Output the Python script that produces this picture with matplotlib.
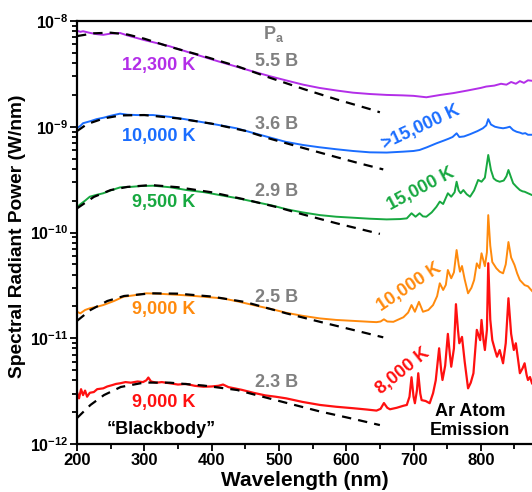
import matplotlib
matplotlib.use("Agg")
import matplotlib.pyplot as plt
from matplotlib.ticker import FixedLocator, LogLocator, NullFormatter, FixedFormatter

plt.rcParams['font.family'] = ['Liberation Sans', 'DejaVu Sans']
plt.rcParams['font.weight'] = 'bold'
plt.rcParams['mathtext.fontset'] = 'custom'
plt.rcParams['mathtext.rm'] = 'Liberation Sans:bold'
plt.rcParams['mathtext.bf'] = 'Liberation Sans:bold'
plt.rcParams['mathtext.it'] = 'Liberation Sans:bold'

# ---------------- measured spectra (W/nm) ----------------
# 5.5 bar
wl_purple = [200, 205, 209, 220, 230, 239, 250, 264, 275, 289, 300, 320, 338, 360, 387, 410,
             437, 460, 487, 510, 536, 560, 586, 610, 635, 660, 684, 700, 719, 740, 759, 780,
             800, 808, 820, 830, 838, 845, 852, 858, 864, 870, 876]
val_purple = [8.1e-9, 7.9e-9, 8.0e-9, 7.7e-9, 7.5e-9, 7.4e-9, 7.6e-9, 7.7e-9, 7.3e-9, 6.9e-9,
              6.6e-9, 6.15e-9, 5.76e-9, 5.2e-9, 4.6e-9, 4.15e-9, 3.7e-9, 3.35e-9, 3.0e-9,
              2.75e-9, 2.5e-9, 2.33e-9, 2.2e-9, 2.1e-9, 2.04e-9, 2.0e-9, 1.98e-9, 1.96e-9,
              1.9e-9, 2.0e-9, 2.08e-9, 2.2e-9, 2.33e-9, 2.4e-9, 2.45e-9, 2.55e-9, 2.5e-9,
              2.65e-9, 2.55e-9, 2.7e-9, 2.6e-9, 2.75e-9, 2.72e-9]

# 3.6 bar
wl_blue = [200, 205, 209, 220, 229, 240, 250, 264, 275, 289, 313, 338, 360, 388, 410, 437,
           460, 487, 510, 536, 560, 586, 610, 635, 660, 684, 700, 709, 720, 734, 745, 752,
           758, 764, 768, 775, 784, 795, 803, 808, 811, 815, 821, 827, 833, 838, 843, 848,
           853, 858, 862, 866, 870, 876]
val_blue = [0.97e-9, 1.02e-9, 1.08e-9, 1.13e-9, 1.18e-9, 1.22e-9, 1.27e-9, 1.33e-9, 1.30e-9,
            1.29e-9, 1.29e-9, 1.24e-9, 1.18e-9, 1.10e-9, 1.04e-9, 0.967e-9, 0.88e-9, 0.79e-9,
            0.72e-9, 0.672e-9, 0.64e-9, 0.612e-9, 0.59e-9, 0.573e-9, 0.57e-9, 0.581e-9,
            0.59e-9, 0.603e-9, 0.64e-9, 0.697e-9, 0.74e-9, 0.77e-9, 0.80e-9, 0.867e-9,
            0.80e-9, 0.81e-9, 0.85e-9, 0.91e-9, 0.967e-9, 1.03e-9, 1.18e-9, 1.05e-9, 1.0e-9,
            0.98e-9, 0.967e-9, 0.98e-9, 1.0e-9, 0.93e-9, 0.897e-9, 0.88e-9, 0.86e-9, 0.87e-9,
            0.84e-9, 0.84e-9]

# 2.9 bar
wl_green = [200, 205, 212, 219, 229, 239, 250, 264, 280, 295, 313, 338, 363, 390, 412, 440,
            462, 490, 511, 535, 561, 585, 610, 635, 660, 680, 690, 697, 703, 709, 714, 719,
            727, 734, 739, 744, 751, 756, 761, 764, 767, 770, 774, 779, 784, 790, 796, 801,
            806, 811, 815, 819, 823, 828, 834, 838, 841, 845, 848, 853, 858, 862, 865, 870, 876]
val_green = [1.73e-10, 1.85e-10, 2.0e-10, 2.18e-10, 2.27e-10, 2.35e-10, 2.5e-10, 2.67e-10,
             2.7e-10, 2.75e-10, 2.77e-10, 2.68e-10, 2.52e-10, 2.40e-10, 2.26e-10, 2.1e-10,
             1.96e-10, 1.8e-10, 1.66e-10, 1.55e-10, 1.46e-10, 1.41e-10, 1.38e-10, 1.35e-10,
             1.33e-10, 1.34e-10, 1.36e-10, 1.52e-10, 1.41e-10, 1.52e-10, 1.42e-10, 1.41e-10,
             1.55e-10, 1.75e-10, 1.96e-10, 1.86e-10, 2.35e-10, 2.18e-10, 2.4e-10, 3.02e-10,
             2.5e-10, 2.35e-10, 2.52e-10, 2.3e-10, 2.18e-10, 2.5e-10, 3.14e-10, 3.02e-10,
             3.3e-10, 5.41e-10, 3.9e-10, 3.25e-10, 3.1e-10, 3.02e-10, 3.1e-10, 3.4e-10,
             3.9e-10, 3.3e-10, 2.92e-10, 2.7e-10, 2.52e-10, 2.45e-10, 2.43e-10, 2.35e-10, 2.26e-10]

# 2.5 bar
wl_orange = [200, 205, 212, 219, 229, 239, 255, 269, 285, 303, 320, 338, 360, 388, 417, 440,
             462, 490, 511, 535, 561, 585, 610, 635, 645, 651, 656, 661, 670, 685, 692, 697,
             702, 708, 714, 722, 729, 735, 739, 744, 748, 751, 756, 760, 764, 767, 769, 772,
             776, 781, 786, 790, 794, 798, 801, 806, 809, 811, 814, 817, 823, 828, 833, 837,
             841, 845, 850, 854, 858, 865, 870, 876]
val_orange = [1.78e-11, 1.72e-11, 1.85e-11, 1.92e-11, 1.98e-11, 2.06e-11, 2.25e-11, 2.47e-11,
              2.55e-11, 2.66e-11, 2.64e-11, 2.60e-11, 2.55e-11, 2.47e-11, 2.38e-11, 2.22e-11,
              2.06e-11, 1.88e-11, 1.74e-11, 1.63e-11, 1.54e-11, 1.49e-11, 1.46e-11, 1.43e-11,
              1.42e-11, 1.44e-11, 1.51e-11, 1.44e-11, 1.43e-11, 1.58e-11, 1.75e-11, 2.06e-11,
              1.78e-11, 2.21e-11, 1.78e-11, 1.85e-11, 2.06e-11, 2.5e-11, 3.31e-11, 2.86e-11,
              3.2e-11, 4.42e-11, 3.69e-11, 4.2e-11, 6.83e-11, 5.0e-11, 4.26e-11, 4.82e-11,
              3.6e-11, 2.66e-11, 3.0e-11, 3.55e-11, 5.11e-11, 4.6e-11, 6.36e-11, 4.8e-11,
              6.5e-11, 1.46e-10, 7.5e-11, 5.26e-11, 4.59e-11, 4.26e-11, 4.11e-11, 5.0e-11,
              8.13e-11, 5.8e-11, 4.93e-11, 4.1e-11, 3.55e-11, 3.18e-11, 3.1e-11, 2.8e-11]

# 2.3 bar
wl_red = [200, 203, 206, 209, 212, 215, 219, 225, 230, 239, 245, 252, 258, 264, 272, 280,
          290, 298, 303, 306, 310, 318, 326, 338, 350, 362, 375, 388, 400, 410, 417, 425,
          435, 445, 462, 480, 495, 511, 535, 561, 585, 610, 630, 645, 651, 656, 661, 665,
          675, 685, 690, 694, 697, 700, 702, 705, 707, 710, 712, 718, 724, 729, 733, 738,
          741, 743, 747, 751, 754, 756, 760, 763, 766, 768, 772, 776, 781, 785, 789, 794,
          797, 799, 801, 804, 806, 809, 811, 814, 817, 821, 824, 828, 833, 837, 841, 845,
          849, 852, 855, 858, 862, 865, 868, 870, 873, 876]
val_red = [3.1e-12, 2.7e-12, 3.3e-12, 2.9e-12, 3.2e-12, 2.8e-12, 3.05e-12, 3.1e-12, 3.3e-12,
           3.36e-12, 3.5e-12, 3.6e-12, 3.7e-12, 3.75e-12, 3.85e-12, 3.8e-12, 3.9e-12, 3.85e-12,
           4.0e-12, 4.25e-12, 3.9e-12, 3.8e-12, 3.85e-12, 3.75e-12, 3.65e-12, 3.7e-12,
           3.55e-12, 3.48e-12, 3.5e-12, 3.55e-12, 3.65e-12, 3.45e-12, 3.35e-12, 3.25e-12,
           3.05e-12, 2.88e-12, 2.8e-12, 2.70e-12, 2.5e-12, 2.34e-12, 2.25e-12, 2.18e-12,
           2.12e-12, 2.07e-12, 2.15e-12, 2.44e-12, 2.2e-12, 2.13e-12, 2.2e-12, 2.3e-12,
           2.34e-12, 2.8e-12, 4.28e-12, 2.8e-12, 2.43e-12, 3.2e-12, 4.67e-12, 3.0e-12,
           2.6e-12, 2.55e-12, 2.43e-12, 3.02e-12, 4.0e-12, 8.04e-12, 5.0e-12, 4.03e-12,
           5.5e-12, 1.10e-11, 7.0e-12, 5.38e-12, 8.0e-12, 2.10e-11, 1.2e-11, 8.97e-12,
           1.03e-11, 6.0e-12, 3.36e-12, 3.8e-12, 4.67e-12, 1.2e-11, 1.05e-11, 9.6e-12,
           1.49e-11, 9.5e-12, 7.74e-12, 1.2e-11, 5.12e-11, 1.5e-11, 9.6e-12, 7.74e-12,
           6.69e-12, 7.74e-12, 5.8e-12, 9.0e-12, 2.39e-11, 1.1e-11, 7.74e-12, 8.97e-12,
           6.5e-12, 4.67e-12, 5.2e-12, 5.8e-12, 4.5e-12, 4.03e-12, 4.3e-12, 3.75e-12]

# ---------------- blackbody fits (W/nm) ----------------
fit_wl_purple = [200, 225, 250, 275, 300, 338, 387, 437, 487, 536, 586, 635, 650]
fit_purple = [7.2e-9, 7.65e-9, 7.75e-9, 7.45e-9, 6.8e-9, 5.7e-9, 4.67e-9, 3.75e-9, 2.9e-9,
              2.28e-9, 1.81e-9, 1.47e-9, 1.37e-9]
fit_wl_blue = [200, 215, 240, 265, 300, 350, 400, 450, 487, 536, 586, 620, 655]
fit_blue = [0.91e-9, 1.06e-9, 1.2e-9, 1.28e-9, 1.29e-9, 1.2e-9, 1.07e-9, 0.915e-9, 0.77e-9,
            0.63e-9, 0.515e-9, 0.45e-9, 0.395e-9]
fit_wl_green = [200, 225, 250, 275, 310, 350, 400, 450, 500, 536, 586, 650]
fit_green = [1.69e-10, 2.17e-10, 2.52e-10, 2.7e-10, 2.81e-10, 2.68e-10, 2.4e-10, 2.05e-10,
             1.72e-10, 1.48e-10, 1.22e-10, 0.97e-10]
fit_wl_orange = [200, 220, 245, 270, 310, 350, 400, 450, 511, 561, 610, 655]
fit_orange = [1.46e-11, 1.85e-11, 2.25e-11, 2.51e-11, 2.66e-11, 2.64e-11, 2.48e-11, 2.2e-11,
              1.72e-11, 1.43e-11, 1.2e-11, 1.02e-11]
fit_wl_red = [200, 220, 240, 265, 300, 338, 388, 438, 462, 511, 561, 610, 650]
fit_red = [1.76e-12, 2.34e-12, 2.9e-12, 3.46e-12, 3.81e-12, 3.80e-12, 3.57e-12, 3.24e-12,
           2.95e-12, 2.45e-12, 2.03e-12, 1.73e-12, 1.51e-12]

# ---------------- labels ----------------
pressures = ['5.5 B', '3.6 B', '2.9 B', '2.5 B', '2.3 B']
bb_temps = ['12,300 K', '10,000 K', '9,500 K', '9,000 K', '9,000 K']
line_temps = ['', '>15,000 K', '15,000 K', '10,000 K', '8,000 K']
x_ticks = [200, 300, 400, 500, 600, 700, 800]
y_ticks = [1e-12, 1e-11, 1e-10, 1e-9, 1e-8]
y_tick_labels = [r'$\mathbf{10^{-12}}$', r'$\mathbf{10^{-11}}$', r'$\mathbf{10^{-10}}$',
                 r'$\mathbf{10^{-9}}$', r'$\mathbf{10^{-8}}$']

colors = ['#B32EE8', '#1A6DFF', '#17A840', '#FF8A0D', '#FF1010']
gray = '#808080'

fig = plt.figure(figsize=(5.32, 4.92), dpi=100)
ax = fig.add_axes([77 / 532, 48 / 492, 455 / 532, 423 / 492])

series = [(wl_purple, val_purple), (wl_blue, val_blue), (wl_green, val_green),
          (wl_orange, val_orange), (wl_red, val_red)]
fits = [(fit_wl_purple, fit_purple), (fit_wl_blue, fit_blue), (fit_wl_green, fit_green),
        (fit_wl_orange, fit_orange), (fit_wl_red, fit_red)]

widths = [1.4, 1.4, 1.4, 1.4, 1.6]
for (wl, v), c, w in zip(series, colors, widths):
    ax.plot(wl, v, color=c, lw=w, zorder=2)
for wl, v in fits:
    ax.plot(wl, v, color='black', lw=1.6, dashes=(4.2, 3.2), zorder=3)

ax.set_yscale('log')
ax.set_xlim(200, 876)
ax.set_ylim(1e-12, 1e-8)

ax.xaxis.set_major_locator(FixedLocator(x_ticks))
ax.xaxis.set_minor_locator(FixedLocator([250, 350, 450, 550, 650, 750, 850]))
ax.yaxis.set_major_locator(FixedLocator(y_ticks))
ax.yaxis.set_major_formatter(FixedFormatter(y_tick_labels))
ax.yaxis.set_minor_locator(LogLocator(base=10, subs=range(2, 10)))
ax.yaxis.set_minor_formatter(NullFormatter())

ax.tick_params(which='both', direction='out', width=1.3, pad=1.5)
ax.tick_params(which='major', length=4.8)
ax.tick_params(which='minor', length=3.4)
ax.tick_params(axis='x', which='minor', length=3.6)
ax.tick_params(axis='x', labelsize=12)
ax.tick_params(axis='y', labelsize=11.5, pad=1.5)
for lbl in ax.get_xticklabels():
    lbl.set_fontweight('bold')

for side in ('left', 'bottom', 'top'):
    ax.spines[side].set_linewidth(1.6)
ax.spines['right'].set_visible(False)

ax.set_xlabel('Wavelength (nm)', fontsize=15, fontweight='bold', labelpad=2)
ax.set_ylabel('Spectral Radiant Power (W/nm)', fontsize=13.8, fontweight='bold')
ax.yaxis.set_label_coords(-0.112, 0.492)

# pressure column
ax.text(0.433, 0.969, r'$\mathbf{P_a}$', transform=ax.transAxes, color=gray,
        fontsize=13, ha='center', va='center')
p_y = [0.905, 0.7565, 0.596, 0.346, 0.145]
for t, y in zip(pressures, p_y):
    ax.text(0.4385, y, t, transform=ax.transAxes, color=gray, fontsize=13,
            fontweight='bold', ha='center', va='center')

# blackbody temperatures
bb_pos = [(0.180, 0.895), (0.180, 0.726), (0.191, 0.570), (0.191, 0.317), (0.191, 0.097)]
for t, (x, y), c in zip(bb_temps, bb_pos, colors):
    ax.text(x, y, t, transform=ax.transAxes, color=c, fontsize=13, fontweight='bold',
            ha='center', va='center')

# line-emission temperatures
lt_pos = [None, (0.756, 0.749, 25), (0.756, 0.603, 28), (0.730, 0.371, 34), (0.716, 0.173, 39)]
for t, p, c in zip(line_temps, lt_pos, colors):
    if p is None:
        continue
    x, y, rot = p
    ax.text(x, y, t, transform=ax.transAxes, color=c, fontsize=13, fontweight='bold',
            ha='center', va='center', rotation=rot, rotation_mode='anchor')

ax.text(0.185, 0.035, '\u201cBlackbody\u201d', transform=ax.transAxes, color='black',
        fontsize=13, fontweight='bold', ha='center', va='center')
ax.text(0.864, 0.054, 'Ar Atom\nEmission', transform=ax.transAxes, color='black',
        fontsize=13, fontweight='bold', ha='center', va='center', linespacing=1.15)

fig.savefig('out.png', dpi=100)
